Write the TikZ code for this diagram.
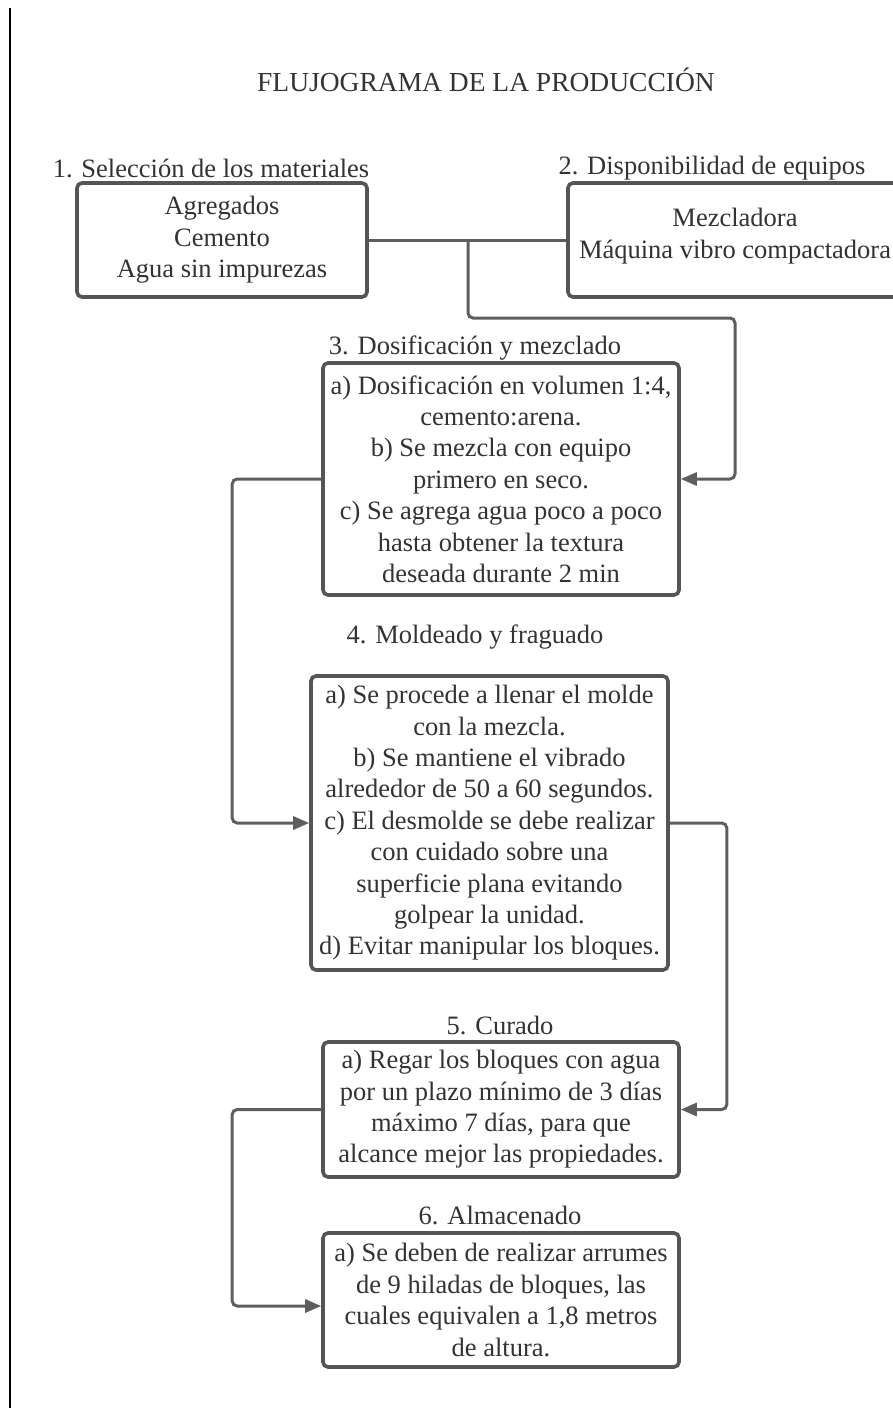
\documentclass[tikz,border=0pt]{standalone}
\usepackage{fontspec}
\setmainfont{Liberation Serif}
\usetikzlibrary{arrows.meta}
\definecolor{boxc}{HTML}{555555}
\definecolor{linec}{HTML}{5E5E5E}
\definecolor{txtc}{HTML}{333333}
\begin{document}
\begin{tikzpicture}[x=1pt,y=-1pt,
  box/.style={draw=boxc, line width=3.6pt, rounded corners=5pt, align=center, inner sep=0pt, font=\fontsize{26.5}{31.4}\selectfont, text=txtc},
  lab/.style={font=\fontsize{26.5}{31.4}\selectfont, text=txtc, inner sep=0pt},
  conn/.style={draw=linec, line width=3pt, rounded corners=5pt},
  arr/.style={conn, -{Triangle[length=16pt,width=13pt]}}
]
\useasboundingbox (0,0) rectangle (893,1408);
\clip (0,0) rectangle (893,1408);
\fill[white] (0,0) rectangle (893,1408);
\draw[line width=1.6pt, black] (10,8) -- (10,1408);

\node[font=\fontsize{27.5}{32}\selectfont, text=txtc, inner sep=0pt] (title) at (486,80) {FLUJOGRAMA DE LA PRODUCCIÓN};

\node[lab] (l1) at (211,168) {1. Selección de los materiales};
\node[box, minimum width=290pt, minimum height=114pt] (b1) at (222,240) {Agregados\\Cemento\\Agua sin impurezas};

\node[lab] (l2) at (712,168) {2. Disponibilidad de equipos};
\node[box, minimum width=334pt, minimum height=114pt] (b2) at (735,240) {};
\node[lab, align=center, font=\fontsize{26.5}{32}\selectfont] (t2) at (735,236) {Mezcladora\\Máquina vibro compactadora};

\node[lab] (l3) at (475,348) {3. Dosificación y mezclado};
\node[box, minimum width=356pt, minimum height=232pt] (b3) at (501,479) {a) Dosificación en volumen 1:4,\\cemento:arena.\\b) Se mezcla con equipo\\primero en seco.\\c) Se agrega agua poco a poco\\hasta obtener la textura\\deseada durante 2 min};

\node[lab] (l4) at (475,637) {4. Moldeado y fraguado};
\node[box, minimum width=357pt, minimum height=294pt] (b4) at (489.5,823) {a) Se procede a llenar el molde\\con la mezcla.\\b) Se mantiene el vibrado\\alrededor de 50 a 60 segundos.\\c) El desmolde se debe realizar\\con cuidado sobre una\\superficie plana evitando\\golpear la unidad.\\d) Evitar manipular los bloques.};

\node[lab] (l5) at (500,1025) {5. Curado};
\node[box, minimum width=356pt, minimum height=135pt] (b5) at (501,1109.5) {a) Regar los bloques con agua\\por un plazo mínimo de 3 días\\máximo 7 días, para que\\alcance mejor las propiedades.};

\node[lab] (l6) at (500,1215) {6. Almacenado};
\node[box, minimum width=356pt, minimum height=134pt] (b6) at (501,1300) {a) Se deben de realizar arrumes\\de 9 hiladas de bloques, las\\cuales equivalen a 1,8 metros\\de altura.};

\coordinate (j) at (468,240);
\coordinate (c1) at (735,318);
\draw[conn] (b1.east) -- (b2.west);
\draw[arr] (j) |- (c1) |- (b3.east);
\draw[arr] (b3.west) -- ++(-89,0) |- (b4.west);
\draw[arr] (b4.east) -- ++(57,0) |- (b5.east);
\draw[arr] (b5.west) -- ++(-89,0) |- ([yshift=-6pt]b6.west);
\end{tikzpicture}
\end{document}
